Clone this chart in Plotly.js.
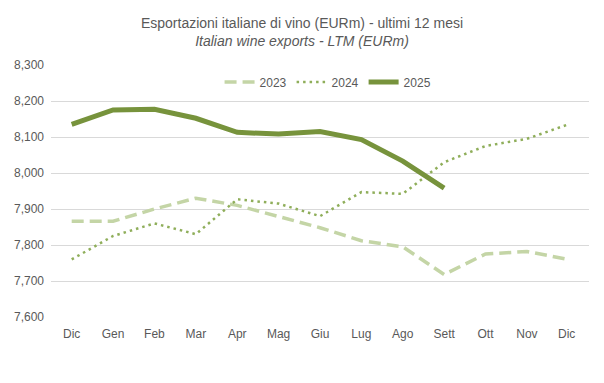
<!DOCTYPE html>
<html><head><meta charset="utf-8">
<script src="https://cdn.plot.ly/plotly-3.0.1.min.js"></script>
<style>html,body{margin:0;padding:0;background:#fff}#chart{width:604px;height:383px}</style>
</head><body><div id="chart"></div>
<script>
const months = ["Dic","Gen","Feb","Mar","Apr","Mag","Giu","Lug","Ago","Sett","Ott","Nov","Dic "];
const v2023 = [7866,7866,7900,7930,7910,7880,7848,7812,7795,7718,7775,7782,7760];
const v2024 = [7760,7825,7860,7830,7927,7915,7880,7947,7942,8030,8075,8095,8135];
const v2025 = [8135,8175,8177,8152,8113,8108,8115,8093,8033,7958];
const font = "'Liberation Sans Narrow', 'Liberation Sans', sans-serif";
const traces = [
  {x: months, y: v2023, name: "2023", type: "scatter", mode: "lines",
   line: {color: "#C4D5A6", width: 3.5, dash: "12px,6px"}},
  {x: months, y: v2024, name: "2024", type: "scatter", mode: "lines",
   line: {color: "#8FAE5A", width: 2.5, dash: "2.5px,4px"}},
  {x: months.slice(0, v2025.length), y: v2025, name: "2025", type: "scatter", mode: "lines",
   line: {color: "#77933C", width: 5}}
];
const layout = {
  width: 604, height: 383,
  margin: {l: 51, r: 15, t: 65, b: 66},
  paper_bgcolor: "#fff", plot_bgcolor: "#fff",
  font: {family: font, color: "#595959", size: 12},
  title: {text: "Esportazioni italiane di vino (EURm) - ultimi 12 mesi<br><i>Italian wine exports - LTM (EURm)</i>",
          xref: "container", x: 0.5, xanchor: "center", yref: "container", y: 0.928, yanchor: "top",
          font: {family: font, size: 14, color: "#595959"}},
  xaxis: {type: "category", range: [-0.5, 12.5], showgrid: false, zeroline: false, showline: false, ticks: "",
          ticklabelstandoff: 8, tickfont: {size: 12, color: "#595959"}},
  yaxis: {range: [7600, 8300], dtick: 100, tickformat: ",d", showgrid: true, gridcolor: "#D9D9D9",
          gridwidth: 1, zeroline: false, showline: false, ticks: "", ticklabelstandoff: 6,
          tickfont: {size: 12, color: "#595959"}},
  showlegend: true,
  legend: {orientation: "h", x: 0.515, xanchor: "center", y: 0.933, yanchor: "middle",
           bgcolor: "rgba(0,0,0,0)", font: {size: 12, color: "#595959"}, itemwidth: 30}
};
Plotly.newPlot("chart", traces, layout, {displayModeBar: false, staticPlot: true});
</script></body></html>
